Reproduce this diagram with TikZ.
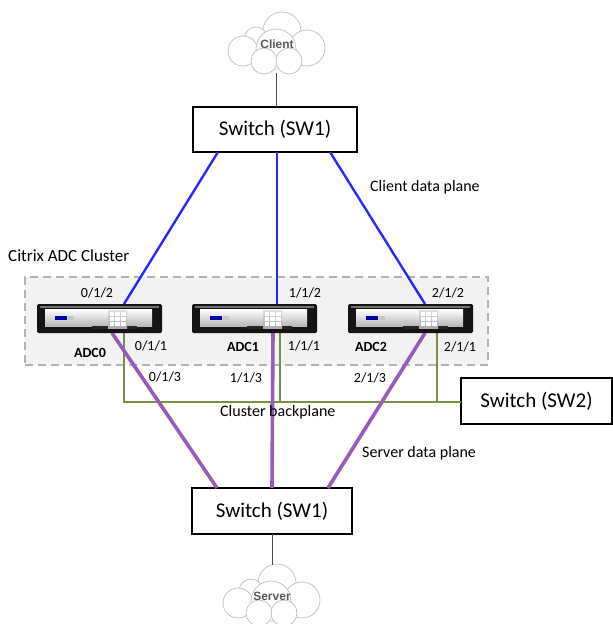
\documentclass[tikz,border=0pt]{standalone}
\usepackage{fontspec}
\setmainfont{Carlito}
\newfontfamily\cloudfont{Liberation Sans}
\usetikzlibrary{calc}
\definecolor{planeblue}{RGB}{40,40,250}
\definecolor{planepurple}{RGB}{150,92,185}
\definecolor{backgreen}{RGB}{118,146,64}
\definecolor{clusterfill}{RGB}{242,242,242}
% soft puff: white centre, light grey rim
\pgfdeclareradialshading{puffshade}{\pgfpoint{-6bp}{6bp}}{%
  color(0bp)=(white); color(26bp)=(white); color(44bp)=(black!14); color(50bp)=(black!24)}
\begin{document}
\begin{tikzpicture}[x=1pt,y=-1pt,
  switchbox/.style={draw=black, line width=2pt, fill=white, inner sep=0pt,
    font=\fontsize{21}{23}\selectfont},
  puff/.style={shading=puffshade, draw=gray!50, line width=0.7pt},
  cloudtext/.style={font=\cloudfont\bfseries\fontsize{12}{14}\selectfont,
    text=gray!70!black, inner sep=0pt},
  port/.style={font=\fontsize{14}{16}\selectfont, inner sep=0pt},
  unitname/.style={font=\bfseries\fontsize{14}{16}\selectfont, inner sep=0pt},
  planelabel/.style={font=\fontsize{16}{18}\selectfont, inner sep=0pt},
  clientlink/.style={planeblue, line width=2.4pt},
  serverlink/.style={planepurple, line width=3.6pt},
  backlink/.style={backgreen, line width=2pt},
  uplink/.style={black!70, line width=1pt},
  puffcloud/.pic={
    \shade[puff] (6,-13) circle[radius=19pt];
    \shade[puff] (-20,-5) circle[radius=12pt];
    \shade[puff] (31,4) circle[radius=18pt];
    \shade[puff] (-33,7) circle[radius=15pt];
    \shade[puff] (0,5) circle[radius=20pt];
    \shade[puff] (-12,17) circle[radius=13pt];
    \shade[puff] (13,17) circle[radius=13pt];
  },
  adcunit/.pic={
    \fill[black!92, rounded corners=1.5pt] (0,0) rectangle (125,29);
    \fill[black!55] (3,2) rectangle (122,4);
    \shade[top color=white, bottom color=black!28] (8,5) rectangle (115,22);
    \fill[black!85] (55,22) rectangle (100,25);
    \fill[blue!65!black] (18,12) rectangle (30,16);
    \fill[gray!45] (31,12) rectangle (37,16);
    \shade[top color=gray!25, bottom color=gray!65] (71,6) rectangle (90,24);
    \foreach \i in {0,1,2}
      \foreach \j in {0,1,2}
        \fill[white] ({72.5+5.8*\i},{8+5*\j}) rectangle ++(4.4,3.6);
  }]
\useasboundingbox (0,0) rectangle (613,624);

% cluster enclosure
\node[draw=gray!60, dash pattern=on 8pt off 5pt, line width=1.5pt, fill=clusterfill,
  minimum width=463pt, minimum height=88pt, inner sep=0pt] (cluster) at (256.5,321) {};
\node[font=\fontsize{17}{19}\selectfont, inner sep=0pt, anchor=west] (clustername) at (8,256) {Citrix ADC Cluster};

% clouds
\pic at (276,44) {puffcloud};
\node[cloudtext] (client) at (277,44) {Client};
\pic at (271,596) {puffcloud};
\node[cloudtext] (server) at (272,596) {Server};

% switches
\node[switchbox, minimum width=164pt, minimum height=45pt] (swtop) at (275,129.5) {Switch (SW1)};
\node[switchbox, minimum width=160pt, minimum height=46pt] (swbot) at (272,511) {Switch (SW1)};
\node[switchbox, minimum width=151pt, minimum height=46pt] (swtwo) at (536.5,401) {Switch (SW2)};

% attachment points
\coordinate (ct) at (276,73);   \coordinate (st) at (276,107);
\coordinate (sb) at (272,534);  \coordinate (cb) at (272,565);
\coordinate (t0) at (218,152);  \coordinate (t1) at (277,152);  \coordinate (t2) at (330,152);
\coordinate (b0) at (217,488);  \coordinate (b1) at (272,488);  \coordinate (b2) at (328,488);
\coordinate (p012) at (124,304); \coordinate (p112) at (277,304); \coordinate (p212) at (425,304);
\coordinate (p013) at (112,333); \coordinate (p113) at (273,333); \coordinate (p213) at (425,333);
\coordinate (p011) at (124,333); \coordinate (p111) at (280,333); \coordinate (p211) at (437,333);
\coordinate (g0) at (124,402);  \coordinate (g1) at (280,402);  \coordinate (g2) at (437,402);
\coordinate (sw2w) at (461,402);

% uplinks to the clouds
\draw[uplink] (ct) -- (st);
\draw[uplink] (sb) -- (cb);

% client data plane
\draw[clientlink] (t0) -- (p012);
\draw[clientlink] (t1) -- (p112);
\draw[clientlink] (t2) -- (p212);

% cluster backplane
\draw[backlink] (p011) -- (g0) -- (sw2w);
\draw[backlink] (p111) -- (g1);
\draw[backlink] (p211) -- (g2);

% server data plane
\draw[serverlink] (p013) -- (b0);
\draw[serverlink] (p113) -- (b1);
\draw[serverlink] (p213) -- (b2);

% appliances
\pic (adc0) at (37,304) {adcunit};
\pic (adc1) at (192,304) {adcunit};
\pic (adc2) at (348,304) {adcunit};

% unit names and ports
\node[unitname] (n0) at (90,353) {ADC0};
\node[unitname] (n1) at (243,347) {ADC1};
\node[unitname] (n2) at (371,347) {ADC2};
\node[port] (l012) at (97,293) {0/1/2};
\node[port] (l112) at (305,293) {1/1/2};
\node[port] (l212) at (448,293) {2/1/2};
\node[port] (l011) at (151,346) {0/1/1};
\node[port] (l111) at (304,346) {1/1/1};
\node[port] (l211) at (460,347) {2/1/1};
\node[port] (l013) at (165,377) {0/1/3};
\node[port] (l113) at (246,378) {1/1/3};
\node[port] (l213) at (370,378) {2/1/3};

% plane names
\node[planelabel, anchor=west] (cdp) at (370,187) {Client data plane};
\node[planelabel, anchor=west] (cbp) at (220,412) {Cluster backplane};
\node[planelabel, anchor=west] (sdp) at (362,453) {Server data plane};
\end{tikzpicture}
\end{document}
